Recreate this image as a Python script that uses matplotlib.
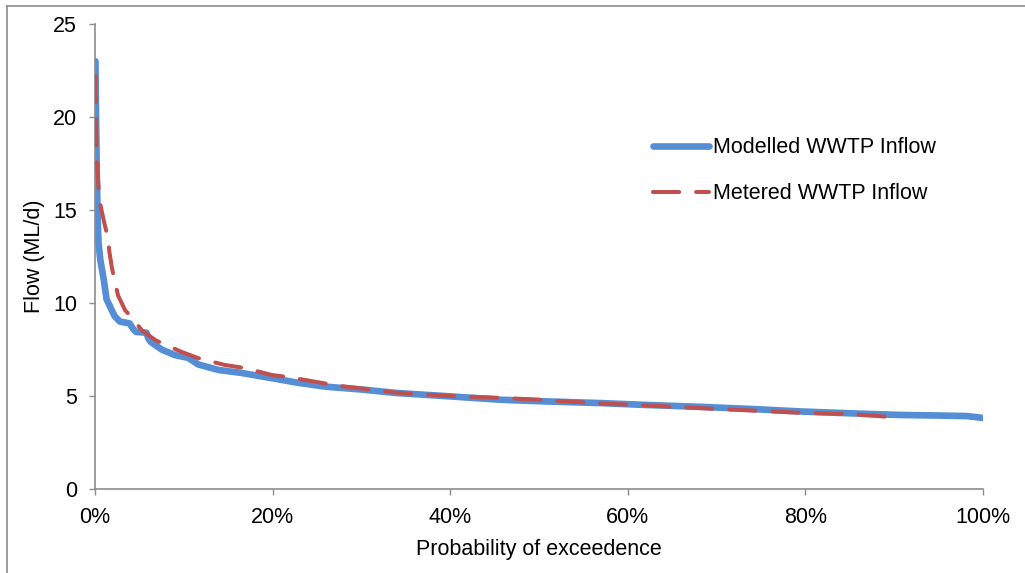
import matplotlib.pyplot as plt
from matplotlib.lines import Line2D
from matplotlib.ticker import PercentFormatter

plt.rcParams['font.family'] = ['Liberation Sans', 'DejaVu Sans']

# Flow duration curves: probability of exceedence (%) vs flow (ML/d)
modelled_p = [0.05, 0.1, 0.2, 0.3, 0.4, 0.6, 0.75, 1.0, 1.3, 1.7, 2.2, 2.8, 3.4,
              3.9, 4.3, 4.6, 5.8, 6.0, 6.3, 7.5, 9.0, 10.5, 11.6, 13.9, 16.5, 20,
              23, 26, 30, 34, 40, 45.6, 50, 56.9, 62, 68, 74, 79.4, 85, 90.7, 95,
              98.2, 100]
modelled_flow = [23.0, 20.5, 17.0, 14.5, 13.2, 12.3, 11.9, 11.2, 10.2, 9.8, 9.3,
                 9.0, 8.95, 8.9, 8.6, 8.45, 8.4, 8.1, 7.9, 7.5, 7.2, 7.05, 6.7,
                 6.4, 6.24, 5.95, 5.7, 5.5, 5.35, 5.16, 4.98, 4.8, 4.72, 4.62,
                 4.52, 4.42, 4.3, 4.17, 4.07, 3.98, 3.95, 3.92, 3.82]

metered_p = [0.05, 0.1, 0.15, 0.2, 0.3, 0.5, 0.64, 1.0, 1.5, 1.6, 1.9, 2.3, 2.6,
             3.4, 4.1, 4.5, 5.25, 6.8, 9.75, 11.6, 14.6, 16.9, 19.9, 22, 25,
             27.6, 34.3, 40, 45.6, 50, 56.9, 62, 68, 74, 79.4, 85, 88, 90.7]
metered_flow = [22.2, 20.4, 19.0, 17.8, 16.8, 15.6, 15.2, 14.4, 13.4, 12.8, 11.9,
                11.0, 10.4, 9.6, 9.25, 9.0, 8.55, 8.0, 7.37, 7.04, 6.67, 6.5,
                6.13, 6.0, 5.75, 5.54, 5.16, 5.0, 4.9, 4.8, 4.6, 4.5, 4.35, 4.22,
                4.1, 4.03, 3.93, 3.82]

fig = plt.figure(figsize=(10.25, 5.73), dpi=100)
ax = fig.add_axes([0.0927, 0.1466, 0.8663, 0.8115])

ax.plot(modelled_p, modelled_flow, color='#558ED5', lw=4.8,
        solid_capstyle='round', solid_joinstyle='round',
        label='Modelled WWTP Inflow', zorder=2)
ax.plot(metered_p, metered_flow, color='#C0504D', lw=2.9,
        dashes=(6.5, 4.2), dash_capstyle='round',
        label='Metered WWTP Inflow', zorder=3)

ax.set_xlim(0, 100)
ax.set_ylim(0, 25)
ax.set_xticks([0, 20, 40, 60, 80, 100])
ax.set_yticks([0, 5, 10, 15, 20, 25])
ax.xaxis.set_major_formatter(PercentFormatter(decimals=0))

for side in ('top', 'right'):
    ax.spines[side].set_visible(False)
for side in ('left', 'bottom'):
    ax.spines[side].set_color('#8C8C8C')
    ax.spines[side].set_linewidth(1.2)
ax.tick_params(direction='out', length=4, width=1, color='#8C8C8C',
               labelsize=15.5, pad=9)

ax.set_xlabel('Probability of exceedence', fontsize=15.5, labelpad=8)
ax.set_ylabel('Flow (ML/d)', fontsize=15.5, labelpad=6)

ax.legend(loc='upper left', bbox_to_anchor=(0.628, 0.756), frameon=False,
          fontsize=15.5, handlelength=2.6, handletextpad=0.2,
          labelspacing=1.15, borderpad=0, borderaxespad=0)

# outer chart-area border (top and left edges)
fig.add_artist(Line2D([7 / 1025, 1], [1 - 5.5 / 573] * 2, color='#8C8C8C', lw=1.2))
fig.add_artist(Line2D([7 / 1025] * 2, [0, 1 - 5.5 / 573], color='#8C8C8C', lw=1.2))

fig.savefig('out.png', dpi=100)
